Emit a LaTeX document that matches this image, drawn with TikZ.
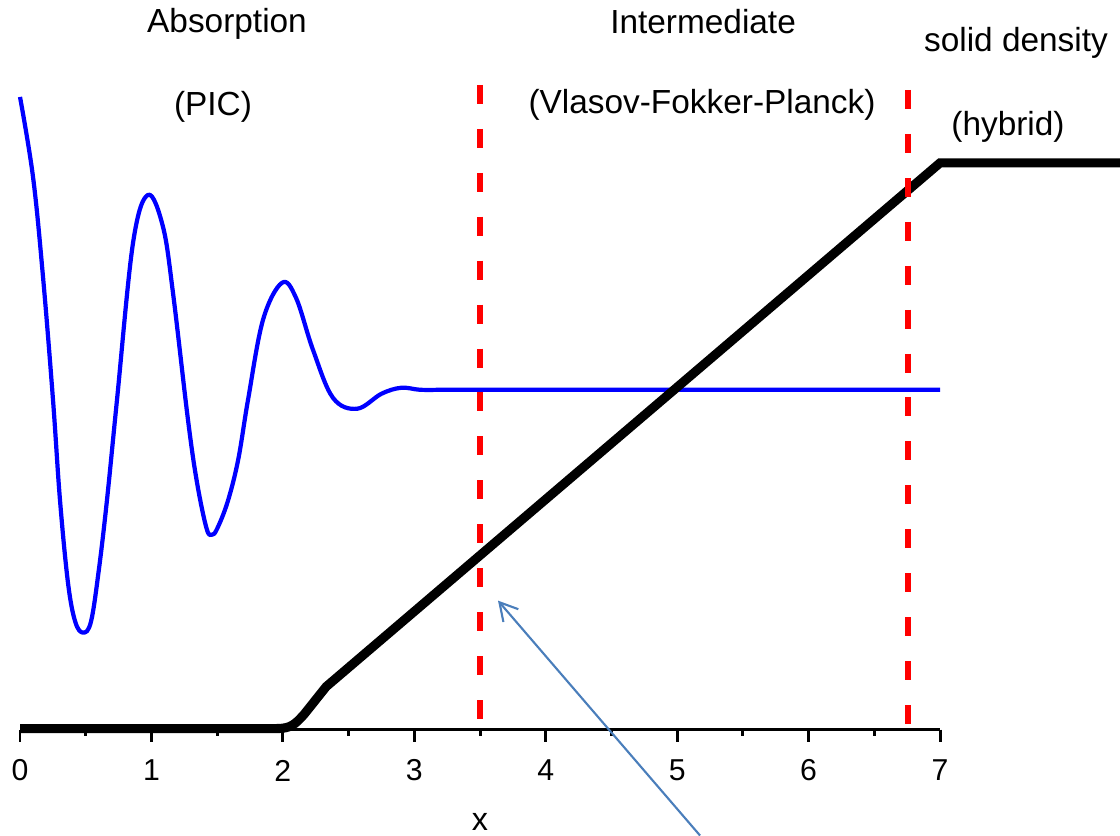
\documentclass[tikz,border=0pt]{standalone}
\usepackage{fontspec}
\setmainfont{Liberation Sans}
\usetikzlibrary{arrows.meta}
\definecolor{wavblue}{HTML}{0000FF}
\definecolor{zonered}{HTML}{FF0000}
\definecolor{steel}{HTML}{4A7EBB}
\tikzset{
  % curves
  wave/.style={draw=wavblue,line width=1.2pt,line join=round},
  dens/.style={draw=black,line width=2.6pt,line join=miter},
  zone/.style={draw=zonered,line width=1.5pt,dash pattern=on 5.4pt off 7.1pt},
  % axis
  ax/.style={draw=black,line width=0.85pt},
  tl/.style={font=\fontsize{8.6}{10}\selectfont,inner sep=0pt},
  xl/.style={font=\fontsize{9.2}{10}\selectfont,inner sep=0pt},
  % labels
  ttl/.style={font=\fontsize{9.5}{11}\selectfont,inner sep=0pt},
  pointer/.style={-{Straight Barb[length=5pt,width=5.6pt]},draw=steel,line width=0.6pt},
}

\begin{document}
\begin{tikzpicture}[x=1.3143cm,y=0.01cm]
\useasboundingbox (-0.1522,-106) rectangle (8.3694,730);
  % axis
  \draw[ax] (0,0) -- (7,0);
  \foreach \k in {0,...,7} {
    \draw[ax] (\k,0) -- (\k,-12);
    \node[tl] (t\k) at (\k,-41) {\k};
  }
  \foreach \k in {0.5,1.5,...,6.5}
    \draw[ax] (\k,0) -- (\k,-6);
  \node[xl] (xlab) at (3.5,-92) {x};
  % field
  \draw[wave] plot[smooth,tension=0.6] coordinates {
    (0,633) (0.099,553) (0.175,453) (0.251,330) (0.304,230) (0.365,147)
    (0.42,108) (0.48,97) (0.54,108) (0.60,160) (0.662,230) (0.738,330)
    (0.860,487) (0.974,535) (1.088,503) (1.164,437)
    (1.278,310) (1.347,247) (1.42,201) (1.461,195) (1.50,201) (1.58,228)
    (1.66,270) (1.735,330) (1.849,410) (1.993,447) (2.10,432) (2.229,380)
    (2.381,332) (2.564,321) (2.75,336) (2.90,342) (3.043,340) (3.2,340)}
    -- (7,340);
  % density
  \draw[dens] (0,1) -- (1.95,1) .. controls (2.06,1) and (2.09,5) .. (2.16,15)
    -- (2.33,43) -- (7,567) -- (8.37,567);
  % zones
  \draw[zone] (3.5,645) -- (3.5,5);
  \draw[zone] (6.756,640) -- (6.756,3);
  \node[ttl] (abs) at (1.575,706) {Absorption};
  \node[ttl] (pic) at (1.468,623) {(PIC)};
  \node[ttl] (mid) at (5.197,708) {Intermediate};
  \node[ttl] (vfp) at (5.189,625) {(Vlasov-Fokker-Planck)};
  \node[ttl] (sol) at (7.578,687) {solid density};
  \node[ttl] (hyb) at (7.517,603) {(hybrid)};
  % pointer
  \coordinate (tail) at (5.174,-106);
  \coordinate (tip) at (3.637,129);
  \draw[pointer] (tail) -- (tip);
\end{tikzpicture}
\end{document}
